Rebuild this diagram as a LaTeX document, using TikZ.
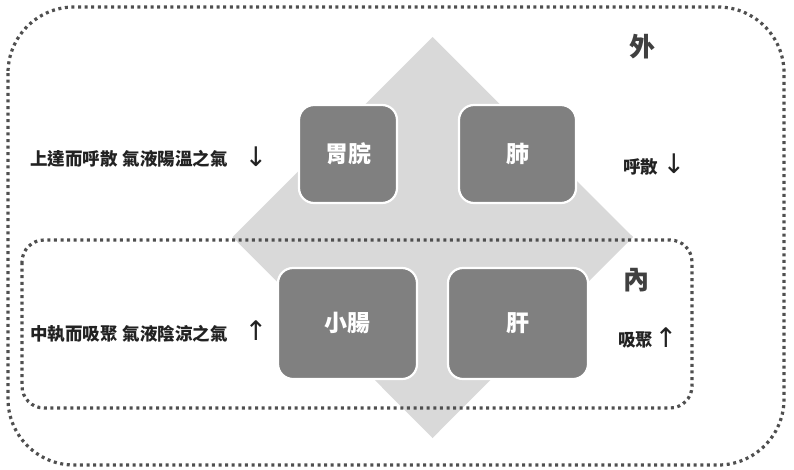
\documentclass[tikz,border=0pt]{standalone}
\usepackage{fontspec}
\newfontfamily\cjk{Noto Sans CJK TC}
\newfontfamily\arrowfont{DejaVu Sans}
\definecolor{diam}{HTML}{D9D9D9}
\definecolor{boxfill}{HTML}{808080}
\definecolor{dotc}{HTML}{4F4F4F}
\definecolor{txt}{HTML}{222222}
\tikzset{
  organ/.style={draw=white, line width=2.2pt, fill=boxfill, rounded corners=15pt,
    text=white, font=\cjk\bfseries\fontsize{23}{23}\selectfont, inner sep=0pt},
  dotline/.style={draw=dotc, line width=3.2pt, dash pattern=on 3pt off 3.6pt},
  lbl/.style={text=txt, font=\cjk\bfseries\fontsize{17.5}{17.5}\selectfont, inner sep=0pt},
  arr/.style={text=txt, font=\arrowfont\fontsize{27}{27}\selectfont, inner sep=0pt},
  big/.style={text=black!75, font=\cjk\bfseries\fontsize{26}{26}\selectfont, inner sep=0pt}
}
\begin{document}
\begin{tikzpicture}[x=1pt,y=-1pt]
\path[use as bounding box] (0,0) rectangle (794,469);
\fill[white] (0,0) rectangle (794,469);
% diamond
\fill[diam] (432.5,37) -- (633,237) -- (432.5,438) -- (232.5,237) -- cycle;
% dotted frames
\draw[dotline, rounded corners=66pt] (8,7) rectangle (784,465);
\draw[dotline, rounded corners=22pt] (22,240) rectangle (692,408);
% organ boxes
\node[organ, minimum width=98pt, minimum height=98pt] (wei) at (348,154) {胃脘};
\node[organ, minimum width=117pt, minimum height=98pt] (fei) at (517.5,154) {肺};
\node[organ, minimum width=139pt, minimum height=111pt] (xc) at (347.5,323.5) {小腸};
\node[organ, minimum width=140pt, minimum height=111pt] (gan) at (518,323.5) {肝};
% labels
\node[big] (wai) at (642,47) {外};
\node[big] (nei) at (636,280) {內};
\node[lbl, anchor=west] (l1) at (30,159) {上達而呼散\hspace{5pt}氣液陽溫之氣};
\node[arr] (a1) at (256,157) {↓};
\node[lbl, anchor=west] (l2) at (30,334) {中執而吸聚\hspace{5pt}氣液陰涼之氣};
\node[arr] (a2) at (256,331) {↑};
\node[lbl, anchor=west] (r1) at (623,167) {呼散};
\node[arr] (a3) at (674,164) {↓};
\node[lbl, anchor=west] (r2) at (618,340) {吸聚};
\node[arr] (a4) at (666,338) {↑};
\end{tikzpicture}
\end{document}
